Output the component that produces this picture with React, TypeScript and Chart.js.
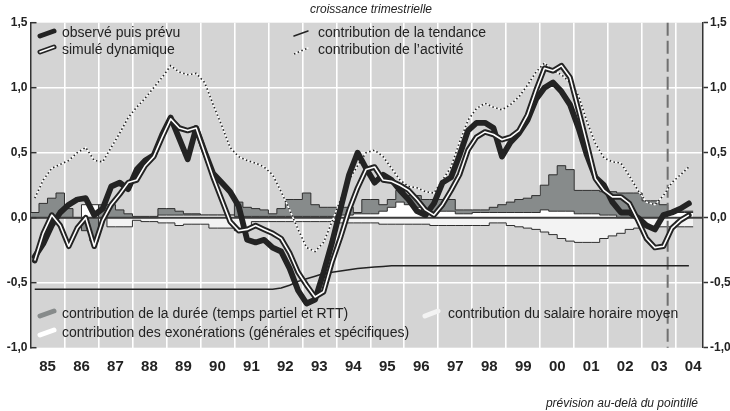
import React, { useEffect, useRef } from 'react';
import { Chart, registerables } from 'chart.js';

Chart.register(...registerables);

// ---------- data (quarterly, 1985Q1 .. 2004Q2) ----------
const START_YEAR = 1985;
const YEARS = [1985, 1986, 1987, 1988, 1989, 1990, 1991, 1992, 1993, 1994, 1995, 1996, 1997, 1998, 1999, 2000, 2001, 2002, 2003, 2004];
const YEAR_LABELS = ['85', '86', '87', '88', '89', '90', '91', '92', '93', '94', '95', '96', '97', '98', '99', '00', '01', '02', '03', '04'];
const Y_TICKS = [-1, -0.5, 0, 0.5, 1, 1.5];
const Y_TICK_LABELS = ['-1,0', '-0,5', '0,0', '0,5', '1,0', '1,5'];
const FORECAST_START = 2003.75;

const observe = [
  -0.30, -0.20, -0.06, 0.04,
  0.10, 0.14, 0.15, 0.02,
  0.07, 0.24, 0.27, 0.22,
  0.37, 0.44, 0.48, 0.64,
  0.77, 0.61, 0.45, 0.69,
  0.51, 0.34, 0.27, 0.20,
  0.09, -0.17, -0.19, -0.17,
  -0.23, -0.26, -0.39, -0.56,
  -0.66, -0.63, -0.42, -0.19,
  0.07, 0.33, 0.50, 0.38,
  0.27, 0.33, 0.29, 0.21,
  0.14, 0.05, 0.02, 0.11,
  0.27, 0.31, 0.48, 0.67,
  0.73, 0.73, 0.69, 0.47,
  0.58, 0.65, 0.75, 0.91,
  1.00, 1.04, 0.97, 0.87,
  0.69, 0.48, 0.31, 0.25,
  0.12, 0.04, 0.04, 0.00,
  -0.06, -0.09, 0.02, 0.04,
  0.07, 0.11,
];

const simule = [
  -0.33, -0.12, 0.02, -0.06,
  -0.22, -0.08, 0.00, -0.22,
  -0.02, 0.10, 0.18, 0.27,
  0.29, 0.40, 0.47, 0.62,
  0.76, 0.69, 0.67, 0.69,
  0.50, 0.31, 0.14, -0.03,
  -0.10, -0.09, -0.06, -0.09,
  -0.12, -0.16, -0.27, -0.42,
  -0.52, -0.61, -0.57, -0.34,
  -0.15, 0.06, 0.23, 0.37,
  0.39, 0.29, 0.28, 0.25,
  0.21, 0.14, 0.06, 0.02,
  0.10, 0.21, 0.33, 0.52,
  0.62, 0.66, 0.64, 0.60,
  0.62, 0.67, 0.79, 0.98,
  1.15, 1.13, 1.17, 1.08,
  0.83, 0.57, 0.30, 0.21,
  0.16, 0.16, 0.11, -0.02,
  -0.16, -0.23, -0.22, -0.08,
  -0.02, 0.02,
];

const tendance = [
  -0.55, -0.55, -0.55, -0.55,
  -0.55, -0.55, -0.55, -0.55,
  -0.55, -0.55, -0.55, -0.55,
  -0.55, -0.55, -0.55, -0.55,
  -0.55, -0.55, -0.55, -0.55,
  -0.55, -0.55, -0.55, -0.55,
  -0.55, -0.55, -0.55, -0.55,
  -0.55, -0.54, -0.52, -0.49,
  -0.47, -0.45, -0.43, -0.42,
  -0.41, -0.40, -0.39, -0.385,
  -0.38, -0.375, -0.37, -0.37,
  -0.37, -0.37, -0.37, -0.37,
  -0.37, -0.37, -0.37, -0.37,
  -0.37, -0.37, -0.37, -0.37,
  -0.37, -0.37, -0.37, -0.37,
  -0.37, -0.37, -0.37, -0.37,
  -0.37, -0.37, -0.37, -0.37,
  -0.37, -0.37, -0.37, -0.37,
  -0.37, -0.37, -0.37, -0.37,
  -0.37, -0.37,
];

const activite = [
  0.15, 0.29, 0.38, 0.41,
  0.44, 0.50, 0.54, 0.44,
  0.43, 0.54, 0.65, 0.77,
  0.85, 0.92, 1.00, 1.08,
  1.17, 1.12, 1.10, 1.11,
  1.04, 0.87, 0.71, 0.54,
  0.47, 0.44, 0.42, 0.39,
  0.33, 0.20, 0.06, -0.09,
  -0.23, -0.26, -0.19, -0.03,
  0.14, 0.29, 0.40, 0.50,
  0.52, 0.47, 0.38, 0.29,
  0.24, 0.23, 0.20, 0.19,
  0.29, 0.39, 0.58, 0.75,
  0.84, 0.88, 0.85, 0.83,
  0.87, 0.93, 1.02, 1.12,
  1.19, 1.13, 1.10, 1.04,
  0.94, 0.74, 0.57, 0.46,
  0.43, 0.42, 0.32, 0.21,
  0.12, 0.10, 0.17, 0.27,
  0.33, 0.39,
];

const duree = [
  0.04, 0.11, 0.15, 0.19,
  0.07, 0.00, -0.10, -0.18,
  0.10, 0.10, 0.06, 0.03,
  0.01, 0.01, 0.01, 0.07,
  0.07, 0.05, 0.03, 0.03,
  0.02, 0.02, 0.02, 0.02,
  0.12, 0.08, 0.07, 0.06,
  0.03, 0.07, 0.14, 0.14,
  0.19, 0.10, 0.08, 0.08,
  0.08, 0.08, 0.04, 0.14,
  0.14, 0.10, 0.14, 0.21,
  0.17, 0.17, 0.14, 0.14,
  0.14, 0.14, 0.06, 0.06,
  0.06, 0.06, 0.08, 0.10,
  0.12, 0.14, 0.15, 0.17,
  0.25, 0.33, 0.40, 0.37,
  0.21, 0.21, 0.21, 0.20,
  0.20, 0.19, 0.19, 0.19,
  0.13, 0.13, 0.10, 0.05,
  0.05, 0.05,
];

const exonerations = [
  0.00, 0.00, 0.00, 0.00,
  0.00, 0.00, 0.10, 0.10,
  0.00, 0.00, 0.00, 0.00,
  0.00, 0.00, 0.00, 0.02,
  0.02, 0.02, 0.02, 0.02,
  0.02, 0.02, 0.02, 0.02,
  0.01, 0.01, 0.01, 0.01,
  0.01, 0.01, 0.01, 0.01,
  0.01, 0.01, 0.01, 0.01,
  0.02, 0.02, 0.03, 0.03,
  0.03, 0.05, 0.08, 0.12,
  0.10, 0.08, 0.05, 0.04,
  0.05, 0.05, 0.03, 0.03,
  0.04, 0.04, 0.04, 0.04,
  0.04, 0.04, 0.04, 0.04,
  0.06, 0.05, 0.05, 0.05,
  0.03, 0.03, 0.03, 0.02,
  0.02, 0.00, 0.00, 0.00,
  0.00, 0.00, 0.00, 0.04,
  0.04, 0.04,
];

const salaire = [
  0.00, 0.00, 0.00, 0.00,
  0.00, 0.00, 0.00, 0.00,
  0.00, -0.07, -0.07, -0.07,
  -0.02, -0.03, -0.03, -0.04,
  -0.04, -0.06, -0.05, -0.05,
  -0.05, -0.08, -0.08, -0.08,
  -0.10, -0.08, -0.03, -0.03,
  -0.03, -0.03, -0.03, -0.03,
  -0.03, -0.03, -0.03, -0.03,
  -0.04, -0.04, -0.04, -0.04,
  -0.04, -0.05, -0.05, -0.05,
  -0.05, -0.05, -0.05, -0.06,
  -0.06, -0.06, -0.06, -0.06,
  -0.06, -0.06, -0.04, -0.04,
  -0.06, -0.07, -0.08, -0.09,
  -0.11, -0.13, -0.16, -0.18,
  -0.19, -0.19, -0.19, -0.16,
  -0.14, -0.12, -0.09, -0.08,
  -0.07, -0.07, -0.07, -0.07,
  -0.07, -0.07,
];

// ---------- helpers ----------
const quarterCenter = (i: number) => START_YEAR + (i + 0.5) / 4;
const quarterStart = (i: number) => START_YEAR + i / 4;
const linePoints = (arr: number[]) => arr.map((v, i) => ({ x: quarterCenter(i), y: v }));
const stepPoints = (arr: number[]) => [
  ...arr.map((v, i) => ({ x: quarterStart(i), y: v })),
  { x: quarterStart(arr.length), y: arr[arr.length - 1] },
];

const FONT = '"Liberation Sans", Arial, Helvetica, sans-serif';
const NARROW = '"Liberation Sans Narrow", "Arial Narrow", "Liberation Sans", sans-serif';
const BG = '#d4d4d4';
const DARK = '#232323';
const GREY_FILL = '#878b8b';
const LIGHT_FILL = '#f3f3f3';
const EXO_INDEX = 2;

const overlayPlugin = {
  id: 'overlay',
  beforeDraw(chart: any) {
    const { ctx, chartArea } = chart;
    ctx.save();
    ctx.fillStyle = BG;
    ctx.fillRect(chartArea.left, chartArea.top, chartArea.right - chartArea.left, chartArea.bottom - chartArea.top);
    ctx.restore();
  },
  afterDatasetDraw(chart: any, args: any) {
    if (args.index !== EXO_INDEX) return;
    const { ctx, chartArea, scales } = chart;
    const y0 = scales.y.getPixelForValue(0);
    ctx.save();
    ctx.strokeStyle = '#3c3c3c';
    ctx.lineWidth = 2;
    ctx.beginPath();
    ctx.moveTo(chartArea.left, y0);
    ctx.lineTo(chartArea.right, y0);
    ctx.stroke();
    const xf = scales.x.getPixelForValue(FORECAST_START);
    ctx.strokeStyle = '#707070';
    ctx.lineWidth = 2;
    ctx.setLineDash([13, 5]);
    ctx.beginPath();
    ctx.moveTo(xf, chartArea.top);
    ctx.lineTo(xf, chartArea.bottom);
    ctx.stroke();
    ctx.restore();
  },
  afterDraw(chart: any) {
    const { ctx, chartArea, scales } = chart;
    ctx.save();
    // inner ticks on left axis
    ctx.strokeStyle = '#333';
    ctx.lineWidth = 1.5;
    Y_TICKS.forEach((v) => {
      const py = scales.y.getPixelForValue(v);
      ctx.beginPath();
      ctx.moveTo(chartArea.left, py);
      ctx.lineTo(chartArea.left + 6, py);
      ctx.stroke();
    });

    const stroke = (x1: number, y1: number, x2: number, y2: number, color: string, w: number, dash?: number[]) => {
      ctx.save();
      ctx.strokeStyle = color;
      ctx.lineWidth = w;
      ctx.lineCap = dash ? 'butt' : 'round';
      if (dash) ctx.setLineDash(dash);
      ctx.beginPath();
      ctx.moveTo(x1, y1);
      ctx.lineTo(x2, y2);
      ctx.stroke();
      ctx.restore();
    };

    // legend symbols
    stroke(40, 36, 54, 31, DARK, 5);
    stroke(40, 52, 54, 47, DARK, 5);
    stroke(40, 52, 54, 47, '#ffffff', 1.5);
    stroke(294, 36, 308, 31, DARK, 1.5);
    stroke(294, 54, 308, 48, '#ffffff', 1.5);
    stroke(294, 54, 308, 48, DARK, 1.6, [1.5, 2.5]);
    stroke(40, 316, 54, 311, GREY_FILL, 5);
    stroke(40, 335, 54, 330, '#ffffff', 5);
    stroke(425, 316, 438, 311, LIGHT_FILL, 5);

    // legend text
    ctx.fillStyle = DARK;
    ctx.font = '14px ' + FONT;
    ctx.textBaseline = 'middle';
    ctx.textAlign = 'left';
    ctx.fillText('observé puis prévu', 62, 33);
    ctx.fillText('simulé dynamique', 62, 50);
    ctx.fillText('contribution de la tendance', 318, 33);
    ctx.fillText('contribution de l\u2019activité', 318, 50);
    ctx.fillText('contribution de la durée (temps partiel et RTT)', 62, 314);
    ctx.fillText('contribution des exonérations (générales et spécifiques)', 62, 333);
    ctx.fillText('contribution du salaire horaire moyen', 448, 314);

    // title & note
    ctx.font = 'italic 12px ' + FONT;
    ctx.textAlign = 'center';
    ctx.fillText('croissance trimestrielle', 371, 10);
    ctx.textAlign = 'right';
    ctx.fillText('prévision au-delà du pointillé', 698, 404);
    ctx.restore();
  },
};

export default function App() {
  const ref = useRef<HTMLCanvasElement | null>(null);

  useEffect(() => {
    document.body.style.margin = '0';
    const canvas = ref.current;
    if (!canvas) return;

    const areaBase = {
      stepped: true,
      fill: 'origin',
      borderColor: '#2e2e2e',
      borderWidth: 1,
      pointRadius: 0,
    };

    const chart = new Chart(canvas, {
      type: 'line',
      data: {
        datasets: [
          { ...areaBase, label: 'contribution de la durée (temps partiel et RTT)', data: stepPoints(duree), backgroundColor: GREY_FILL, order: 10 },
          { ...areaBase, label: 'contribution du salaire horaire moyen', data: stepPoints(salaire), backgroundColor: LIGHT_FILL, order: 9 },
          { ...areaBase, label: 'contribution des exonérations (générales et spécifiques)', data: stepPoints(exonerations), backgroundColor: '#ffffff', order: 8 },
          { label: 'contribution de la tendance', data: linePoints(tendance), borderColor: DARK, borderWidth: 1.5, pointRadius: 0, fill: false, order: 7 },
          { label: 'contribution de l\u2019activité', data: linePoints(activite), borderColor: '#ffffff', borderWidth: 1.5, pointRadius: 0, fill: false, order: 6 },
          { label: 'contribution de l\u2019activité (pointillé)', data: linePoints(activite), borderColor: DARK, borderWidth: 1.6, borderDash: [1.5, 2.5], pointRadius: 0, fill: false, order: 5 },
          { label: 'observé puis prévu', data: linePoints(observe), borderColor: DARK, borderWidth: 5.8, borderJoinStyle: 'round', borderCapStyle: 'round', pointRadius: 0, fill: false, order: 4 },
          { label: 'simulé dynamique', data: linePoints(simule), borderColor: DARK, borderWidth: 5.5, borderJoinStyle: 'round', borderCapStyle: 'round', pointRadius: 0, fill: false, order: 3 },
          { label: 'simulé dynamique (centre)', data: linePoints(simule), borderColor: '#ffffff', borderWidth: 1.6, borderJoinStyle: 'round', pointRadius: 0, fill: false, order: 2 },
        ] as any,
      },
      options: {
        responsive: false,
        animation: false,
        devicePixelRatio: 1,
        layout: { padding: { top: 22.7, left: 0, right: 0, bottom: 0 } },
        plugins: {
          legend: { display: false },
          tooltip: { enabled: false },
          title: { display: false },
        },
        scales: {
          x: {
            type: 'linear',
            min: START_YEAR,
            max: 2004.79,
            afterBuildTicks: (s: any) => { s.ticks = YEARS.map((v) => ({ value: v })); },
            afterFit: (s: any) => { s.height = 63.3; },
            grid: {
              color: (c: any) => (c.tick && c.tick.value === START_YEAR ? 'rgba(0,0,0,0)' : '#ffffff'),
              lineWidth: 1.6,
              drawTicks: false,
            },
            border: { display: false },
            ticks: {
              autoSkip: false,
              maxRotation: 0,
              labelOffset: 17,
              padding: 10,
              color: DARK,
              font: { family: NARROW, size: 15, weight: 'bold' },
              callback: (v: any) => {
                const idx = YEARS.indexOf(Math.round(Number(v)));
                return idx >= 0 ? YEAR_LABELS[idx] : '';
              },
            },
          },
          y: {
            position: 'left',
            min: -1,
            max: 1.5,
            afterBuildTicks: (s: any) => { s.ticks = Y_TICKS.map((v) => ({ value: v })); },
            afterFit: (s: any) => { s.width = 30.5; },
            grid: {
              color: (c: any) => (c.tick && (c.tick.value === -1 || c.tick.value === 1.5) ? 'rgba(0,0,0,0)' : '#ffffff'),
              lineWidth: 1.6,
              drawTicks: false,
            },
            border: { display: true, color: '#333', width: 1.5 },
            ticks: {
              padding: 3,
              color: DARK,
              font: { family: FONT, size: 12, weight: 'bold' },
              callback: (v: any) => {
                const idx = Y_TICKS.indexOf(Number(v));
                return idx >= 0 ? Y_TICK_LABELS[idx] : '';
              },
            },
          },
          y2: {
            position: 'right',
            min: -1,
            max: 1.5,
            afterBuildTicks: (s: any) => { s.ticks = Y_TICKS.map((v) => ({ value: v })); },
            afterFit: (s: any) => { s.width = 27; },
            grid: { drawOnChartArea: false, drawTicks: true, tickLength: 5, tickColor: '#333', tickWidth: 1.5 },
            border: { display: true, color: '#333', width: 1.5 },
            ticks: {
              padding: 2,
              color: DARK,
              font: { family: FONT, size: 12, weight: 'bold' },
              callback: (v: any) => {
                const idx = Y_TICKS.indexOf(Number(v));
                return idx >= 0 ? Y_TICK_LABELS[idx] : '';
              },
            },
          },
        },
      } as any,
      plugins: [overlayPlugin],
    });

    return () => chart.destroy();
  }, []);

  return (
    <div style={{ width: 730, height: 411, position: 'relative' }}>
      <canvas ref={ref} width={730} height={411} style={{ display: 'block', width: 730, height: 411 }} />
    </div>
  );
}
